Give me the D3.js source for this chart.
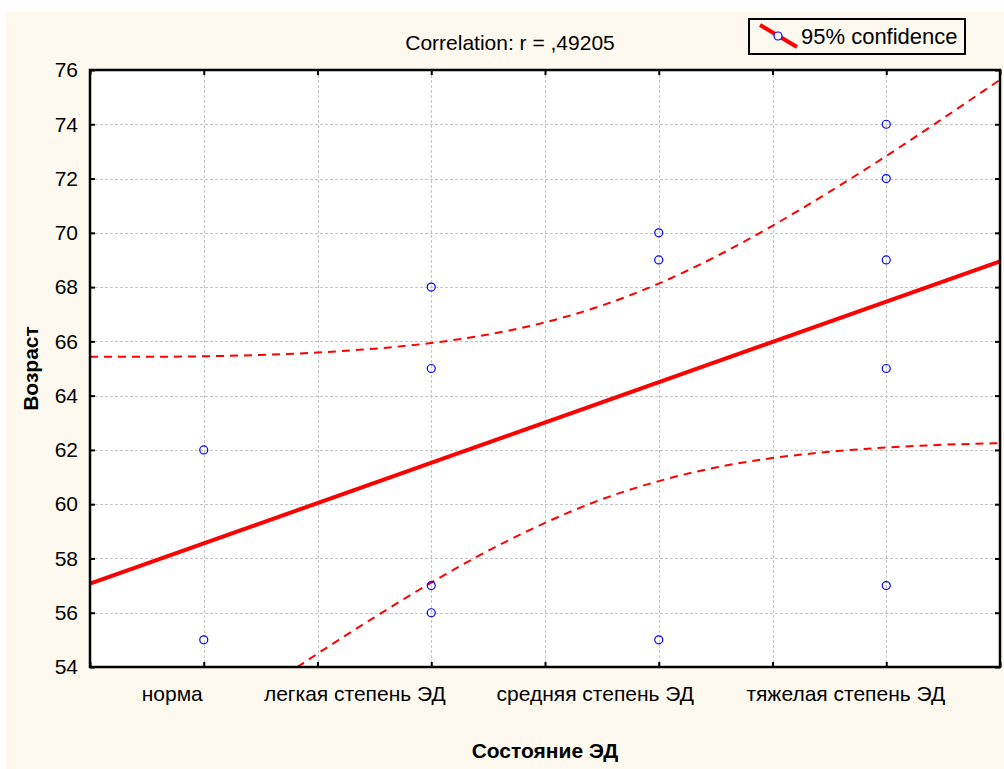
<!DOCTYPE html>
<html>
<head>
<meta charset="utf-8">
<script src="https://cdn.jsdelivr.net/npm/d3@7"></script>
<style>
  body { margin: 0; background: #fff; }
  svg { display: block; font-family: "Liberation Sans", Arial, sans-serif; }
</style>
</head>
<body>
<script>
// categories on the x axis (positions 1..4)
var categories = ["норма", "легкая степень ЭД", "средняя степень ЭД", "тяжелая степень ЭД"];
// observed points: category index (1-based) and age
var pointX = [1, 1, 2, 2, 2, 2, 3, 3, 3, 4, 4, 4, 4, 4];
var pointY = [62, 55, 68, 65, 57, 56, 70, 69, 55, 74, 72, 69, 65, 57];
// regression line, read at the plot edges
var fitX = [0.5, 4.5];
var fitY = [57.07, 68.95];
// 95% confidence band
var bandX = [0.5, 0.75, 1, 1.25, 1.5, 1.75, 2, 2.25, 2.5, 2.75, 3, 3.25, 3.5, 3.75, 4, 4.25, 4.5];
var bandUpper = [65.43, 65.43, 65.45, 65.5, 65.59, 65.73, 65.94, 66.25, 66.7, 67.32, 68.13, 69.12, 70.26, 71.51, 72.83, 74.22, 75.64];
var bandLower = [48.71, 50.19, 51.66, 53.09, 54.49, 55.83, 57.11, 58.28, 59.31, 60.18, 60.85, 61.35, 61.7, 61.93, 62.09, 62.19, 62.25];
var yTicks = [54, 56, 58, 60, 62, 64, 66, 68, 70, 72, 74, 76];
var xTicks = [0.5, 1, 1.5, 2, 2.5, 3, 3.5, 4, 4.5];

var w = 1004, h = 769;
var plot = { left: 90, top: 70, right: 1000, bottom: 667 };
// the category labels sit a little left of their ticks in the original
var labelShift = [-32, -77, -64, -41];

var svg = d3.select("body").append("svg")
  .attr("width", w)
  .attr("height", h);

// cream background panel
svg.append("rect")
  .attr("x", 6).attr("y", 12)
  .attr("width", w - 6).attr("height", h - 12)
  .attr("fill", "#fdf9ef");

var x = d3.scaleLinear().domain([0.5, 4.5]).range([plot.left, plot.right]);
var y = d3.scaleLinear().domain([54, 76]).range([plot.bottom, plot.top]);

svg.append("rect")
  .attr("x", plot.left).attr("y", plot.top)
  .attr("width", plot.right - plot.left).attr("height", plot.bottom - plot.top)
  .attr("fill", "#fff");

svg.append("clipPath").attr("id", "clip")
  .append("rect")
  .attr("x", plot.left).attr("y", plot.top)
  .attr("width", plot.right - plot.left).attr("height", plot.bottom - plot.top);

// grid
var grid = svg.append("g")
  .attr("stroke", "#c4c4c4")
  .attr("stroke-width", 1)
  .attr("stroke-dasharray", "3,2");
grid.selectAll("line.gx")
  .data(xTicks.slice(1, -1))
  .enter().append("line")
  .attr("x1", function (d) { return Math.round(x(d)) + 0.5; })
  .attr("x2", function (d) { return Math.round(x(d)) + 0.5; })
  .attr("y1", plot.top).attr("y2", plot.bottom);
grid.selectAll("line.gy")
  .data(yTicks.slice(1, -1))
  .enter().append("line")
  .attr("y1", function (d) { return Math.round(y(d)) + 0.5; })
  .attr("y2", function (d) { return Math.round(y(d)) + 0.5; })
  .attr("x1", plot.left).attr("x2", plot.right);

var clipped = svg.append("g").attr("clip-path", "url(#clip)");

var line = d3.line()
  .x(function (d) { return x(d[0]); })
  .y(function (d) { return y(d[1]); });

// confidence band
[bandUpper, bandLower].forEach(function (band) {
  clipped.append("path")
    .datum(bandX.map(function (d, i) { return [d, band[i]]; }))
    .attr("d", line.curve(d3.curveMonotoneX))
    .attr("fill", "none")
    .attr("stroke", "#ff0000")
    .attr("stroke-width", 2)
    .attr("stroke-dasharray", "8,6");
});

// regression line
clipped.append("path")
  .datum(fitX.map(function (d, i) { return [d, fitY[i]]; }))
  .attr("d", line.curve(d3.curveLinear))
  .attr("fill", "none")
  .attr("stroke", "#ff0000")
  .attr("stroke-width", 4);

// points
clipped.selectAll("circle")
  .data(pointX.map(function (d, i) { return [d, pointY[i]]; }))
  .enter().append("circle")
  .attr("cx", function (d) { return x(d[0]); })
  .attr("cy", function (d) { return y(d[1]); })
  .attr("r", 4)
  .attr("fill", "none")
  .attr("stroke", "#0000ff")
  .attr("stroke-width", 1.2);

// axes with inward ticks
var yAxisL = d3.axisLeft(y).tickValues(yTicks).tickSize(-5).tickPadding(12);
var yAxisR = d3.axisRight(y).tickValues(yTicks).tickSize(-5).tickFormat("");
var xAxisB = d3.axisBottom(x).tickValues(xTicks).tickSize(-5).tickPadding(19)
  .tickFormat(function (d) { return Number.isInteger(d) ? categories[d - 1] : ""; });
var xAxisT = d3.axisTop(x).tickValues(xTicks).tickSize(-5).tickFormat("");

function style(g) {
  g.select(".domain").remove();
  g.selectAll(".tick line").attr("stroke", "#000").attr("stroke-width", 2);
  g.selectAll(".tick text").attr("fill", "#000").attr("font-size", 21);
}

svg.append("g").attr("transform", "translate(" + plot.left + ",0)").call(yAxisL).call(style);
svg.append("g").attr("transform", "translate(" + plot.right + ",0)").call(yAxisR).call(style);
svg.append("g").attr("transform", "translate(0," + plot.bottom + ")").call(xAxisB).call(style)
  .selectAll(".tick text")
  .attr("dx", function (d) { return Number.isInteger(d) ? labelShift[d - 1] : 0; });
svg.append("g").attr("transform", "translate(0," + plot.top + ")").call(xAxisT).call(style);

// frame
svg.append("rect")
  .attr("x", plot.left).attr("y", plot.top)
  .attr("width", plot.right - plot.left).attr("height", plot.bottom - plot.top)
  .attr("fill", "none")
  .attr("stroke", "#000")
  .attr("stroke-width", 2.5);

// titles
svg.append("text")
  .attr("x", 510).attr("y", 50)
  .attr("text-anchor", "middle")
  .attr("font-size", 21)
  .text("Correlation: r = ,49205");

svg.append("text")
  .attr("x", 545).attr("y", 758)
  .attr("text-anchor", "middle")
  .attr("font-size", 21)
  .attr("font-weight", "bold")
  .text("Состояние ЭД");

svg.append("text")
  .attr("transform", "translate(38," + ((plot.top + plot.bottom) / 2) + ") rotate(-90)")
  .attr("text-anchor", "middle")
  .attr("font-size", 21)
  .attr("font-weight", "bold")
  .text("Возраст");

// legend
var legend = svg.append("g");
legend.append("rect")
  .attr("x", 749).attr("y", 19)
  .attr("width", 216).attr("height", 35)
  .attr("fill", "#fdf9ef")
  .attr("stroke", "#000")
  .attr("stroke-width", 2);
legend.append("line")
  .attr("x1", 760).attr("y1", 25)
  .attr("x2", 797).attr("y2", 47)
  .attr("stroke", "#ff0000")
  .attr("stroke-width", 4);
legend.append("circle")
  .attr("cx", 778).attr("cy", 36).attr("r", 4)
  .attr("fill", "#fdf9ef")
  .attr("stroke", "#0000ff")
  .attr("stroke-width", 1.2);
legend.append("text")
  .attr("x", 801).attr("y", 44)
  .attr("font-size", 22)
  .text("95% confidence");
</script>
</body>
</html>
